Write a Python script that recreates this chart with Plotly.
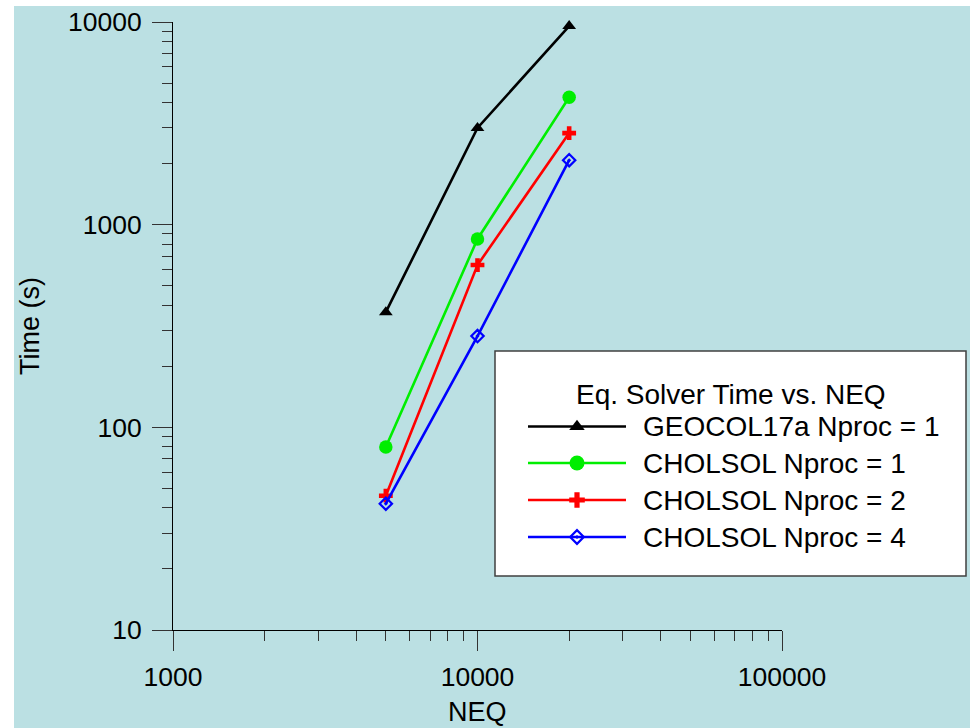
import plotly.graph_objects as go

# --- data -------------------------------------------------------------
neq = [5000, 10000, 20000]
geocol17a_np1 = [370, 3000, 9550]
cholsol_np1 = [80, 850, 4250]
cholsol_np2 = [46, 632, 2830]
cholsol_np4 = [42, 282, 2080]

series_names = [
    "GEOCOL17a Nproc = 1",
    "CHOLSOL Nproc = 1",
    "CHOLSOL Nproc = 2",
    "CHOLSOL Nproc = 4",
]
legend_title = "Eq. Solver Time vs. NEQ"
x_title = "NEQ"
y_title = "Time (s)"

# --- styling ------------------------------------------------------------
FONT = "Liberation Sans, Arial, sans-serif"
BG = "#bbe0e3"
# (plot marker size, legend marker size)
styles = [
    dict(color="black", symbol="triangle-up", size=12, lsize=13.5),
    dict(color="#00ee00", symbol="circle", size=13.5, lsize=15),
    dict(color="#ff0000", symbol="cross", size=11.5, lsize=13),
    dict(color="#0000ff", symbol="diamond-open-dot", size=9.5, lsize=10.5),
]
values = [geocol17a_np1, cholsol_np1, cholsol_np2, cholsol_np4]
LINE_W = 2.6

W, H = 970, 728
L, R, T, B = 173, 782, 22, 630  # plot area in pixels
PW, PH = R - L, B - T


def fx(px):
    return (px - L) / PW


def fy(py):
    return (B - py) / PH


def make_marker(st, size):
    marker = dict(color=st["color"], symbol=st["symbol"], size=size)
    if "open" in st["symbol"]:
        marker["line"] = dict(color=st["color"], width=2.2)
    return marker


fig = go.Figure()

for name, ys, st in zip(series_names, values, styles):
    fig.add_trace(go.Scatter(
        x=neq, y=ys, mode="lines+markers", name=name,
        line=dict(color=st["color"], width=LINE_W),
        marker=make_marker(st, st["size"]), cliponaxis=False, showlegend=False,
    ))

# --- legend box drawn on an overlay axis -------------------------------
box = dict(x0=495, x1=966, y0=351, y1=576)
row_y = [426.5, 463, 500, 537]
seg_x0, seg_xm, seg_x1 = 528, 577, 626
text_x = 641

shapes = [
    dict(type="rect", xref="paper", yref="paper",
         x0=fx(14), x1=fx(980), y0=fy(740), y1=fy(6),
         fillcolor=BG, line=dict(width=0), layer="below"),
    dict(type="rect", xref="paper", yref="paper",
         x0=fx(box["x0"]), x1=fx(box["x1"]), y0=fy(box["y1"]), y1=fy(box["y0"]),
         fillcolor="white", line=dict(color="#404040", width=1.5), layer="below"),
]

annotations = [
    dict(text=legend_title, xref="paper", yref="paper",
         x=fx((box["x0"] + box["x1"]) / 2), y=fy(394), xanchor="center", yanchor="middle",
         showarrow=False, font=dict(family=FONT, size=28, color="black")),
    # x-axis title
    dict(text=x_title, xref="paper", yref="paper", x=0.5, y=fy(712),
         xanchor="center", yanchor="middle", showarrow=False, borderpad=0,
         font=dict(family=FONT, size=27, color="black")),
]

for name, st, py in zip(series_names, styles, row_y):
    fig.add_trace(go.Scatter(
        x=[fx(seg_x0), fx(seg_x1)], y=[fy(py)] * 2,
        xaxis="x2", yaxis="y2", mode="lines",
        line=dict(color=st["color"], width=LINE_W),
        cliponaxis=False, showlegend=False, hoverinfo="skip",
    ))
    fig.add_trace(go.Scatter(
        x=[fx(seg_xm)], y=[fy(py)],
        xaxis="x2", yaxis="y2", mode="markers",
        marker=make_marker(st, st["lsize"]),
        cliponaxis=False, showlegend=False, hoverinfo="skip",
    ))
    annotations.append(dict(
        text=name, xref="paper", yref="paper", x=fx(text_x), y=fy(py),
        xanchor="left", yanchor="middle", showarrow=False,
        font=dict(family=FONT, size=28, color="black"),
    ))

axis_common = dict(
    type="log", showgrid=False, zeroline=False, automargin=False,
    showline=True, linecolor="black", linewidth=1,
    ticks="outside", ticklen=20, tickwidth=1.2, tickcolor="#333333",
    dtick=1, tickformat="d",
    tickfont=dict(family=FONT, size=26.5, color="black"),
    minor=dict(ticks="outside", ticklen=10, tickwidth=1, tickcolor="#333333",
               dtick="D1", showgrid=False),
)

fig.update_layout(
    width=W, height=H,
    margin=dict(l=L, r=W - R, t=T, b=H - B, pad=0),
    paper_bgcolor="white",
    plot_bgcolor="rgba(0,0,0,0)",
    showlegend=False,
    xaxis=dict(axis_common, range=[3, 5], ticklabelstandoff=3),
    yaxis=dict(axis_common, range=[1, 4], ticklabelstandoff=5,
               title=dict(text=y_title, font=dict(family=FONT, size=27, color="black"), standoff=20)),
    xaxis2=dict(overlaying="x", range=[0, 1], visible=False),
    yaxis2=dict(overlaying="y", range=[0, 1], visible=False),
    shapes=shapes,
    annotations=annotations,
)

fig.write_html("out.html")
